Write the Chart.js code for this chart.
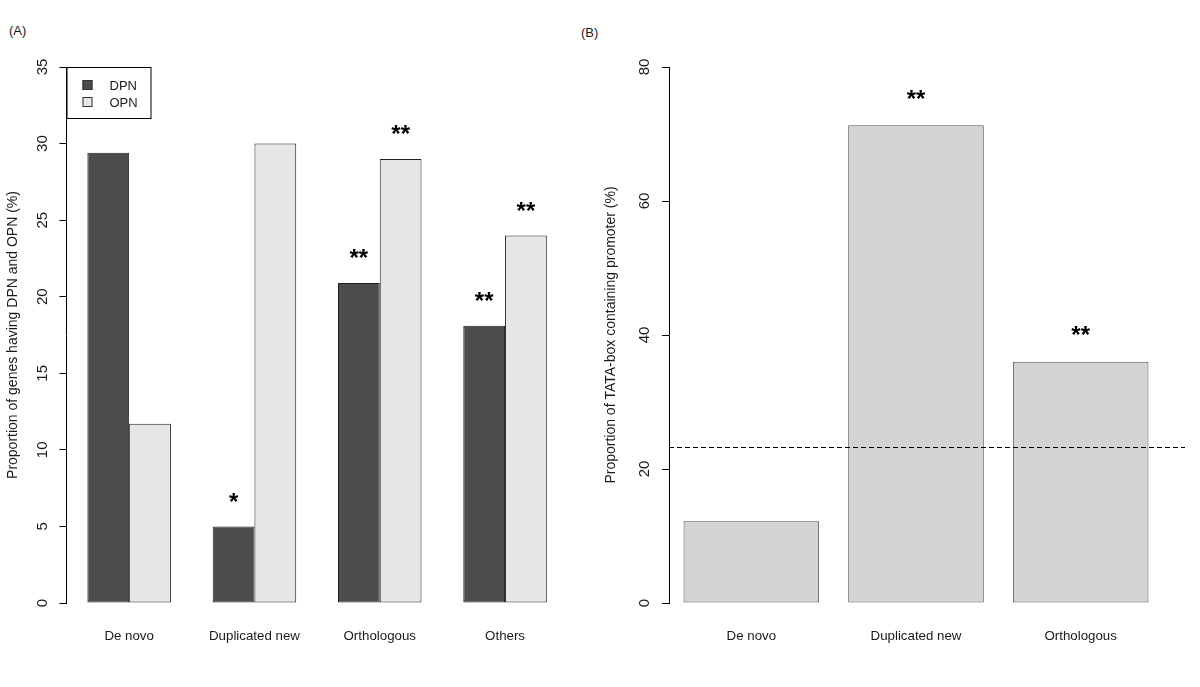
<!DOCTYPE html>
<html>
<head>
<meta charset="utf-8">
<script src="https://cdn.jsdelivr.net/npm/chart.js@4.4.1/dist/chart.umd.min.js"></script>
<style>
  body { margin: 0; background: #fff; width: 1200px; height: 687px; position: relative; overflow: hidden; }
  canvas { position: absolute; top: 0; }
  .tag { position: absolute; font: 13px "Liberation Sans", Arial, sans-serif; color: #1a1a1a; }
</style>
</head>
<body>
<div class="tag" style="left:9px; top:23px;">(A)</div>
<div class="tag" style="left:581px; top:25px;">(B)</div>
<canvas id="panelA" width="590" height="687" style="left:0"></canvas>
<canvas id="panelB" width="610" height="687" style="left:590px"></canvas>
<script>
const categoriesA = ["De novo", "Duplicated new", "Orthologous", "Others"];
const dpnValues = [29.4, 5.0, 20.9, 18.1];
const opnValues = [11.7, 30.0, 29.0, 24.0];
const dpnStars = ["", "*", "**", "**"];
const opnStars = ["", "", "**", "**"];
const ticksA = [0, 5, 10, 15, 20, 25, 30, 35];

const categoriesB = ["De novo", "Duplicated new", "Orthologous"];
const tataValues = [12.2, 71.3, 36.0];
const tataStars = ["", "**", "**"];
const tataReference = 23.3;
const ticksB = [0, 20, 40, 60, 80];

const FONT = "'Liberation Sans', Arial, sans-serif";
const INK = "#1a1a1a";

// R-style tick labels, rotated along the y axis
const rTickLabels = {
  id: "rTickLabels",
  afterDraw(chart) {
    const y = chart.scales.y;
    const ctx = chart.ctx;
    ctx.save();
    ctx.font = "15px " + FONT;
    ctx.fillStyle = INK;
    ctx.textAlign = "center";
    ctx.textBaseline = "middle";
    y.ticks.forEach((t) => {
      ctx.save();
      ctx.translate(chart.chartArea.left - 24, y.getPixelForValue(t.value));
      ctx.rotate(-Math.PI / 2);
      ctx.fillText(String(t.value), 0, 0);
      ctx.restore();
    });
    ctx.restore();
  },
};

// significance stars above the bars
const starLabels = {
  id: "starLabels",
  afterDatasetsDraw(chart, args, opts) {
    const ctx = chart.ctx;
    ctx.save();
    ctx.font = "bold 24px " + FONT;
    ctx.fillStyle = "#000";
    ctx.textAlign = "center";
    ctx.textBaseline = "alphabetic";
    chart.data.datasets.forEach((ds, i) => {
      if (!ds.stars) return;
      chart.getDatasetMeta(i).data.forEach((bar, j) => {
        const s = ds.stars[j];
        if (!s) return;
        const m = ctx.measureText(s);
        const cy = bar.y - opts.gap;
        ctx.fillText(s, bar.x, cy + (m.actualBoundingBoxAscent - m.actualBoundingBoxDescent) / 2);
      });
    });
    ctx.restore();
  },
};

// boxed legend in the top-left corner of the plot
const boxLegend = {
  id: "boxLegend",
  afterDraw(chart, args, opts) {
    if (!opts.show) return;
    const ctx = chart.ctx;
    const { left, top } = chart.chartArea;
    ctx.save();
    ctx.strokeStyle = "#000";
    ctx.lineWidth = 1;
    ctx.strokeRect(left + 0.5, top + 0.5, 84, 51);
    ctx.font = "13px " + FONT;
    ctx.textBaseline = "middle";
    ctx.textAlign = "left";
    chart.data.datasets.forEach((ds, i) => {
      const sy = top + 13 + i * 17;
      ctx.fillStyle = ds.backgroundColor;
      ctx.fillRect(left + 16, sy, 10, 10);
      ctx.strokeStyle = "#333";
      ctx.strokeRect(left + 16.5, sy + 0.5, 9, 9);
      ctx.fillStyle = INK;
      ctx.fillText(ds.label, left + 43, sy + 6);
    });
    ctx.restore();
  },
};

// dashed reference line across panel B
const refLine = {
  id: "refLine",
  afterDatasetsDraw(chart, args, opts) {
    if (opts.value === undefined) return;
    const ctx = chart.ctx;
    const y = Math.round(chart.scales.y.getPixelForValue(opts.value)) + 0.5;
    ctx.save();
    ctx.strokeStyle = "#000";
    ctx.lineWidth = 1;
    ctx.setLineDash([5, 3]);
    ctx.beginPath();
    ctx.moveTo(chart.chartArea.left, y);
    ctx.lineTo(chart.chartArea.right + 22, y);
    ctx.stroke();
    ctx.restore();
  },
};

function axes(ticks, title, titlePad, yWidth) {
  return {
    x: {
      grid: { display: false },
      border: { display: false },
      ticks: { color: INK, font: { family: FONT, size: 13.3 }, padding: 17 },
      afterFit: (s) => { s.height = 40; },
    },
    y: {
      min: ticks[0],
      max: ticks[ticks.length - 1],
      afterBuildTicks: (s) => { s.ticks = ticks.map((v) => ({ value: v })); },
      grid: { drawOnChartArea: false, color: "#000", tickLength: 7 },
      border: { display: true, color: "#000" },
      ticks: { display: false },
      title: { display: true, text: title, color: INK, font: { family: FONT, size: 14 }, padding: { top: titlePad, bottom: 0 } },
      afterFit: (s) => { s.width = yWidth; },
    },
  };
}

new Chart(document.getElementById("panelA"), {
  type: "bar",
  data: {
    labels: categoriesA,
    datasets: [
      { label: "DPN", data: dpnValues, stars: dpnStars, backgroundColor: "#4d4d4d", borderColor: "#222", borderWidth: 1, borderSkipped: false },
      { label: "OPN", data: opnValues, stars: opnStars, backgroundColor: "#e6e6e6", borderColor: "#222", borderWidth: 1, borderSkipped: false },
    ],
  },
  options: {
    responsive: false,
    animation: false,
    categoryPercentage: 2 / 3,
    barPercentage: 1,
    layout: { padding: { left: 0, top: 67, right: 22.3, bottom: 44 } },
    plugins: {
      legend: { display: false },
      tooltip: { enabled: false },
      starLabels: { gap: 29 },
      boxLegend: { show: true },
    },
    scales: axes(ticksA, "Proportion of genes having DPN and OPN (%)", 5, 66.5),
  },
  plugins: [rTickLabels, starLabels, boxLegend],
});

new Chart(document.getElementById("panelB"), {
  type: "bar",
  data: {
    labels: categoriesB,
    datasets: [
      { label: "TATA-box", data: tataValues, stars: tataStars, backgroundColor: "#d3d3d3", borderColor: "#555", borderWidth: 1, borderSkipped: false },
    ],
  },
  options: {
    responsive: false,
    animation: false,
    categoryPercentage: 0.8235,
    barPercentage: 1,
    layout: { padding: { left: 0, top: 67, right: 37, bottom: 44 } },
    plugins: {
      legend: { display: false },
      tooltip: { enabled: false },
      starLabels: { gap: 31 },
      refLine: { value: tataReference },
    },
    scales: axes(ticksB, "Proportion of TATA-box containing promoter (%)", 12.6, 79),
  },
  plugins: [rTickLabels, starLabels, refLine],
});
</script>
</body>
</html>
